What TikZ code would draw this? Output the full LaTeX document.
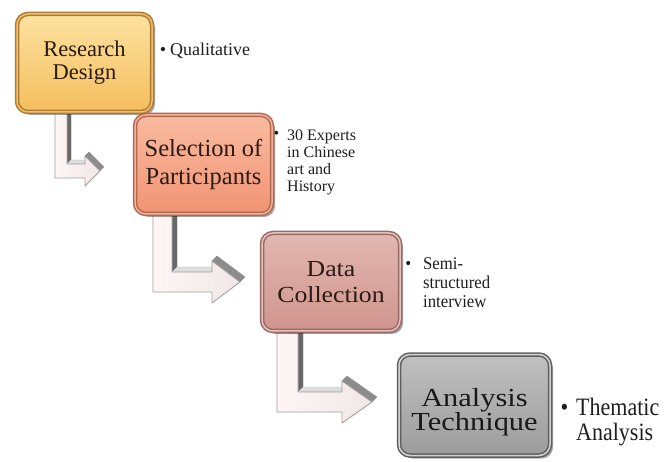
\documentclass[tikz,border=0pt]{standalone}
\usepackage{fontspec}
\setmainfont{Liberation Serif}
\newfontfamily\fsC[FakeStretch=1.12]{Liberation Serif}
\newfontfamily\fsD[FakeStretch=1.17]{Liberation Serif}
\newfontfamily\fsS[FakeStretch=0.93]{Liberation Serif}
\newfontfamily\fsT[FakeStretch=0.88]{Liberation Serif}
\usetikzlibrary{calc,shadows}

\definecolor{boxtext}{HTML}{2A1C14}
\definecolor{sidetext}{HTML}{1E1E1E}
% box 1
\definecolor{aTop}{HTML}{FCE2A0}\definecolor{aBot}{HTML}{F5BE5E}
\definecolor{aDark}{HTML}{B07A30}\definecolor{aLight}{HTML}{F0C070}
% box 2
\definecolor{bTop}{HTML}{F9BBA0}\definecolor{bBot}{HTML}{F29374}
\definecolor{bDark}{HTML}{B06A50}\definecolor{bLight}{HTML}{F4B098}
% box 3
\definecolor{cTop}{HTML}{E3B7B1}\definecolor{cBot}{HTML}{CF958E}
\definecolor{cDark}{HTML}{966A65}\definecolor{cLight}{HTML}{E6C2BD}
% box 4
\definecolor{dTop}{HTML}{C0C0C0}\definecolor{dBot}{HTML}{9C9C9C}
\definecolor{dDark}{HTML}{5E5E5E}\definecolor{dLight}{HTML}{D4D4D4}
% arrows
\definecolor{arrFront}{HTML}{FDF6F5}
\definecolor{arrFront2}{HTML}{F1E7E7}
\definecolor{arrEdge}{HTML}{A0A0A0}

\tikzset{
  box/.style={rounded corners=11pt, inner sep=0pt, align=center, text=boxtext,
    line width=1.5pt, double distance=1.5pt,
    drop shadow={shadow xshift=3pt, shadow yshift=-3pt, fill=black, opacity=0.35}},
  boxlabel/.style={inner sep=0pt, align=center, text=boxtext},
  side/.style={anchor=base west, inner sep=0pt, text=sidetext},
  arrface/.style={left color=arrFront, right color=arrFront2, draw=arrEdge, line width=0.9pt, line join=round},
  arrdark/.style={fill=black!60, draw=black!50, line width=0.3pt},
  arrlight/.style={fill=black!13, draw=black!25, line width=0.3pt},
  arrmid/.style={fill=black!28, draw=black!35, line width=0.3pt},
  arrhead/.style={fill=black!45, draw=black!45, line width=0.3pt},
}

% #1 xl, #2 xr, #3 ytop, #4 bar top, #5 bar bottom, #6 head base x, #7 head overhang, #8 tip x, #9 depth
\newcommand\bentarrow[9]{%
  \coordinate (pA) at (#1,#3);
  \coordinate (pB) at (#2,#3);
  \coordinate (pC) at (#2,#4);
  \coordinate (pD) at (#6,#4);
  \coordinate (pE) at (#6,{#4-#7});
  \coordinate (pF) at (#8,{(#4+#5)/2});
  \coordinate (pG) at (#6,{#5+#7});
  \coordinate (pH) at (#6,#5);
  \coordinate (pI) at (#1,#5);
  \fill[arrlight] (pA) -- (pB) -- ($(pB)+(#9,-#9)$) -- ($(pA)+(#9,-#9)$) -- cycle;
  \fill[arrdark] (pB) -- ($(pB)+(#9,-#9)$) -- ($(pC)+(#9,-#9)$) -- (pC) -- cycle;
  \fill[arrlight] (pC) -- ($(pC)+(#9,-#9)$) -- ($(pD)+(#9,-#9)$) -- (pD) -- cycle;
  \fill[arrmid] (pD) -- ($(pD)+(#9,-#9)$) -- ($(pE)+(#9,-#9)$) -- (pE) -- cycle;
  \fill[arrhead] (pE) -- ($(pE)+(#9,-#9)$) -- ($(pF)+(#9,-#9)$) -- (pF) -- cycle;
  \path[arrface] (pA) -- (pB) -- (pC) -- (pD) -- (pE) -- (pF) -- (pG) -- (pH) -- (pI) -- cycle;
}

\begin{document}
\begin{tikzpicture}[x=1pt,y=-1pt]
\useasboundingbox (0,0) rectangle (664,462);
\fill[white] (0,0) rectangle (664,462);

% bent arrows (drawn first, boxes overlap their tops)
\bentarrow{55}{67}{113}{164}{178}{85}{8}{100}{4}
\bentarrow{153}{172}{215}{272}{292}{212}{11}{240}{5}
\bentarrow{277}{298}{333}{392}{412}{342}{11}{372}{5}

% boxes
\node[box, minimum width=135pt, minimum height=98pt, draw=aDark, double=aLight,
      top color=aTop, bottom color=aBot,
      font=\fontsize{22.5}{23}\selectfont] (rd) at (84.5,63) {Research\\Design};
\node[box, minimum width=137pt, minimum height=99pt, draw=bDark, double=bLight,
      top color=bTop, bottom color=bBot,
      font=\fontsize{24.5}{28}\selectfont] (sp) at (203.5,164.5) {Selection of\\Participants};
\node[box, minimum width=138pt, minimum height=98pt, draw=cDark, double=cLight,
      top color=cTop, bottom color=cBot,
      font=\fsC\fontsize{23}{26}\selectfont] (dc) at (331,282) {Data\\Collection};
\node[box, minimum width=151pt, minimum height=101pt, draw=dDark, double=dLight,
      top color=dTop, bottom color=dBot] (an) at (474.5,405) {};
\node[boxlabel, font=\fsD\fontsize{26}{24}\selectfont, text=black!90] (anT)
      at ([yshift=-7pt]an.center) {Analysis\\Technique};

% side notes
\node[side, font=\fontsize{18}{19}\selectfont] (q) at (170,56)
  {\llap{\textbullet\hspace{4pt}}Qualitative};
\node[side, font=\fontsize{16}{16.7}\selectfont] (e) at (287,141)
  {\begin{tabular}[t]{@{}l@{}}\llap{\raisebox{2pt}{\textbullet}\hspace{8pt}}30 Experts\\in Chinese\\art and\\History\end{tabular}};
\node[side, font=\fsS\fontsize{18}{19}\selectfont] (s) at (423,270)
  {\begin{tabular}[t]{@{}l@{}}\llap{\textbullet\hspace{12pt}}Semi-\\structured\\interview\end{tabular}};
\node[side, font=\fsT\fontsize{25}{25}\selectfont] (t) at (576,415)
  {\begin{tabular}[t]{@{}l@{}}\llap{\textbullet\hspace{8pt}}Thematic\\Analysis\end{tabular}};
\end{tikzpicture}
\end{document}
